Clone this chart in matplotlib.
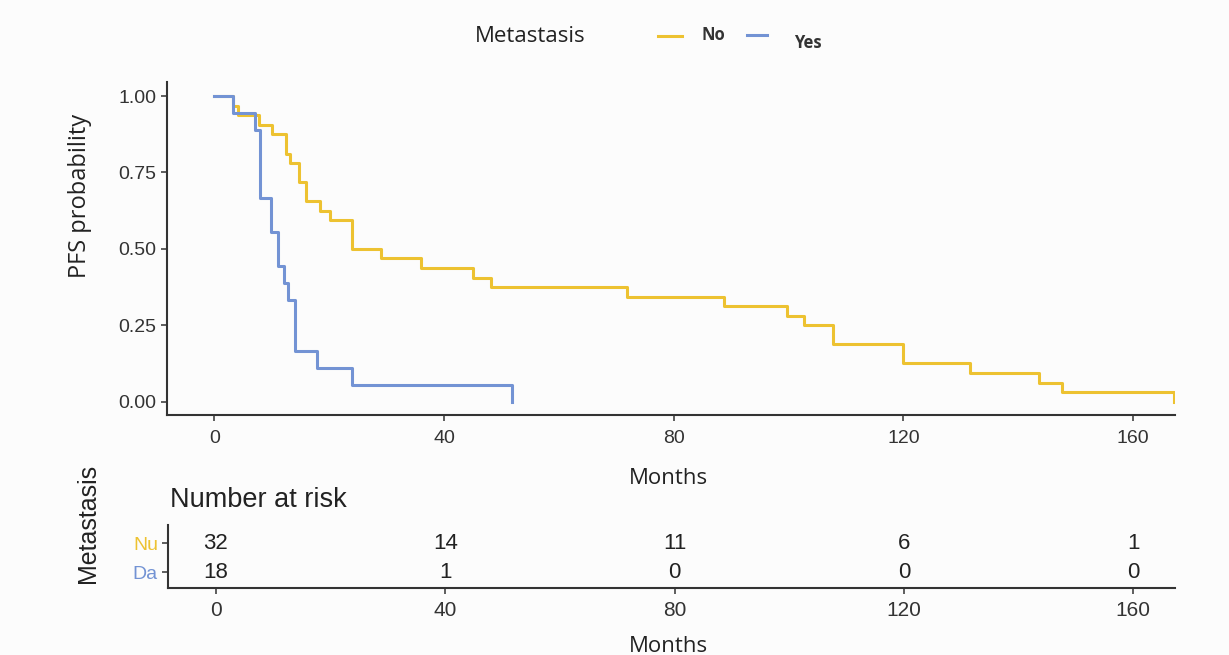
import matplotlib
matplotlib.use("Agg")
import matplotlib.pyplot as plt
from matplotlib.lines import Line2D

# progression-free survival
no_months = [0, 3.3, 4.2, 7.7, 10.0, 12.4, 13.2, 14.8, 16.0, 18.4, 20.2, 24.0, 29.1,
             36.0, 45.1, 48.2, 71.8, 88.8, 99.8, 102.7, 107.8, 120.0, 131.6, 143.6,
             147.7, 167.2]
no_surv = [1.0, 0.969, 0.938, 0.906, 0.875, 0.812, 0.781, 0.719, 0.656, 0.625, 0.594,
           0.5, 0.469, 0.438, 0.406, 0.375, 0.344, 0.312, 0.281, 0.25, 0.188, 0.125,
           0.094, 0.062, 0.031, 0.0]

yes_months = [0, 3.2, 7.0, 8.0, 9.9, 11.0, 12.1, 12.9, 14.1, 17.9, 24.0, 51.8]
yes_surv = [1.0, 0.944, 0.889, 0.667, 0.556, 0.444, 0.389, 0.333, 0.167, 0.111, 0.056, 0.0]

risk_times = [0, 40, 80, 120, 160]
risk_no = [32, 14, 11, 6, 1]
risk_yes = [18, 1, 0, 0, 0]
row_labels = ["Nu", "Da"]

yellow = "#EDC231"
blue = "#7393D4"
dark = "#333333"
bg = "#FCFCFC"

W, H = 1229, 655
fig = plt.figure(figsize=(W / 100, H / 100), dpi=100, facecolor=bg)


def box(x0, y0, x1, y1):
    # pixel box (top-left origin) -> figure fraction rect
    return [x0 / W, 1 - y1 / H, (x1 - x0) / W, (y1 - y0) / H]


def style(ax, size):
    ax.set_facecolor(bg)
    for s in ["top", "right"]:
        ax.spines[s].set_visible(False)
    for s in ["left", "bottom"]:
        ax.spines[s].set_color(dark)
        ax.spines[s].set_linewidth(1.5)
    ax.tick_params(colors=dark, length=4, width=1.1, labelsize=size)
    for lab in ax.get_xticklabels() + ax.get_yticklabels():
        lab.set_family("Liberation Sans")


# main curve panel
ax = fig.add_axes(box(166.7, 81.7, 1175, 415))
ax.step(no_months, no_surv, where="post", color=yellow, lw=2.2)
ax.step(yes_months, yes_surv, where="post", color=blue, lw=2.2)
ax.set_xlim(-8.3, 167.3)
ax.set_ylim(-0.0435, 1.047)
ax.set_xticks(risk_times)
ax.set_yticks([0, 0.25, 0.5, 0.75, 1.0])
ax.set_yticklabels(["0.00", "0.25", "0.50", "0.75", "1.00"])
style(ax, 14)
ax.tick_params(axis="x", pad=7)

fig.text(80 / W, 1 - 196 / H, "PFS probability", rotation=90, ha="center", va="center",
         fontsize=17, family="Open Sans", color="#222222")
fig.text(668 / W, 1 - 478 / H, "Months", ha="center", va="center",
         fontsize=16, family="Open Sans", color="#222222")

# legend on top
fig.text(530 / W, 1 - 36 / H, "Metastasis", ha="center", va="center",
         fontsize=16, family="Open Sans", color="#222222")
fig.add_artist(Line2D([658 / W, 682 / W], [1 - 36 / H] * 2, color=yellow, lw=2.2))
fig.text(713 / W, 1 - 35 / H, "No", ha="center", va="center",
         fontsize=12, family="Open Sans", weight="bold", color="#333333")
fig.add_artist(Line2D([747 / W, 767 / W], [1 - 35 / H] * 2, color=blue, lw=2.2))
fig.text(808 / W, 1 - 43 / H, "Yes", ha="center", va="center",
         fontsize=12, family="Open Sans", weight="bold", color="#333333")

# number at risk table
rax = fig.add_axes(box(168.3, 525, 1175, 588.3))
for t, a, b in zip(risk_times, risk_no, risk_yes):
    rax.text(t, 2, str(a), ha="center", va="center", fontsize=16,
             family="Liberation Sans", color="#222222")
    rax.text(t, 1, str(b), ha="center", va="center", fontsize=16,
             family="Liberation Sans", color="#222222")
rax.set_xlim(-8.3, 167.3)
rax.set_ylim(0.43, 2.645)
rax.set_xticks(risk_times)
rax.set_yticks([2, 1])
rax.set_yticklabels(row_labels)
style(rax, 15)
rax.tick_params(axis="x", pad=5)
rax.tick_params(axis="y", labelsize=14)
rax.get_yticklabels()[0].set_color(yellow)
rax.get_yticklabels()[1].set_color(blue)

fig.text(170 / W, 1 - 500 / H, "Number at risk", ha="left", va="center",
         fontsize=19.5, family="Liberation Sans", color="#222222")
fig.text(88 / W, 1 - 523 / H, "Metastasis", rotation=90, ha="center", va="center",
         fontsize=18, family="Liberation Sans", color="#222222")
fig.text(668 / W, 1 - 646 / H, "Months", ha="center", va="center",
         fontsize=16, family="Open Sans", color="#222222")

fig.savefig("out.png", dpi=100, facecolor=bg)
